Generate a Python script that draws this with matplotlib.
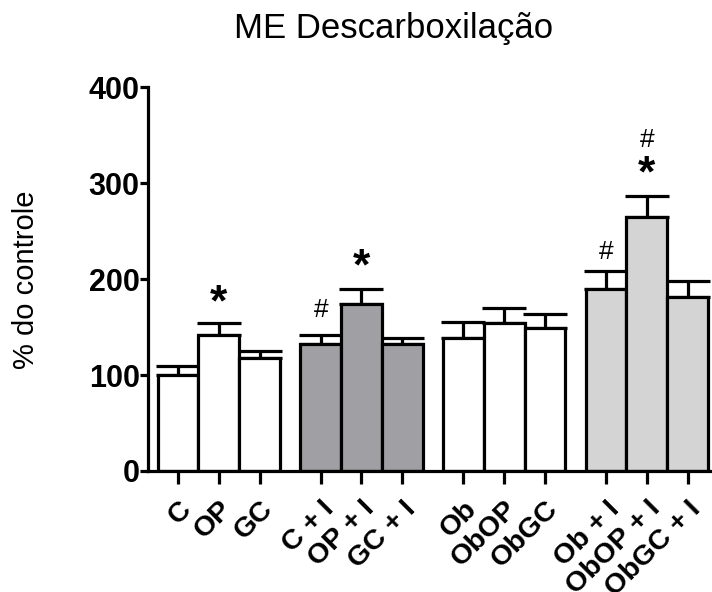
import numpy as np
import matplotlib.pyplot as plt

plt.rcParams['font.family'] = ['Liberation Sans', 'DejaVu Sans']

# dados
labels = ['C', 'OP', 'GC', 'C + I', 'OP + I', 'GC + I',
          'Ob', 'ObOP', 'ObGC', 'Ob + I', 'ObOP + I', 'ObGC + I']
means = [100, 142, 118, 132, 174, 132, 139, 154, 149, 190, 265, 181]
errs = [9, 12, 7, 10, 16, 7, 16, 16, 15, 18, 21, 17]
group_of_bar = [0, 0, 0, 1, 1, 1, 2, 2, 2, 3, 3, 3]
group_colors = ['white', '#A0A0A4', 'white', '#D4D4D4']
# anotacoes: (indice da barra, texto, valor y)
marks = [(1, '*', 178), (3, '#', 168), (4, '*', 216),
         (9, '#', 228), (10, '*', 312), (10, '#', 345)]

pos = np.array([i + 0.5 * g for i, g in enumerate(group_of_bar)])
colors = [group_colors[g] for g in group_of_bar]

fig = plt.figure(figsize=(7.12, 5.92), dpi=100)
ax = fig.add_axes([0.208, 0.2044, 0.792, 0.6486])

lw = 2.3
ax.bar(pos, means, width=1.0, color=colors, edgecolor='black', linewidth=lw, zorder=2)
ax.errorbar(pos, means, yerr=[np.zeros(len(errs)), errs], fmt='none', ecolor='black',
            elinewidth=lw, capsize=16, capthick=lw, zorder=1)

for i, txt, y in marks:
    if txt == '*':
        ax.text(pos[i], y - 4, txt, ha='center', va='center', fontsize=32, fontweight='bold')
    else:
        ax.text(pos[i], y, txt, ha='center', va='center', fontsize=19)

ax.set_xlim(-0.735, 13.1)
ax.set_ylim(0, 400)
ax.set_yticks([0, 100, 200, 300, 400])
ax.set_xticks(pos)
ax.set_xticklabels(labels, rotation=45, ha='right', va='top', rotation_mode='anchor',
                   fontsize=20.5, fontweight='bold')
for t in ax.get_yticklabels():
    t.set_fontweight('bold')
    t.set_fontsize(22)

for s in ['top', 'right']:
    ax.spines[s].set_visible(False)
for s in ['left', 'bottom']:
    ax.spines[s].set_linewidth(lw)
ax.tick_params(axis='y', length=6, width=lw, pad=0)
ax.tick_params(axis='x', length=9, width=lw, pad=9)

fig.text(0.553, 0.952, 'ME Descarboxilação', ha='center', va='center', fontsize=25)
fig.text(0.037, 0.527, '% do controle', ha='center', va='center', rotation=90,
         fontsize=21)

fig.savefig('out.png', dpi=100)
